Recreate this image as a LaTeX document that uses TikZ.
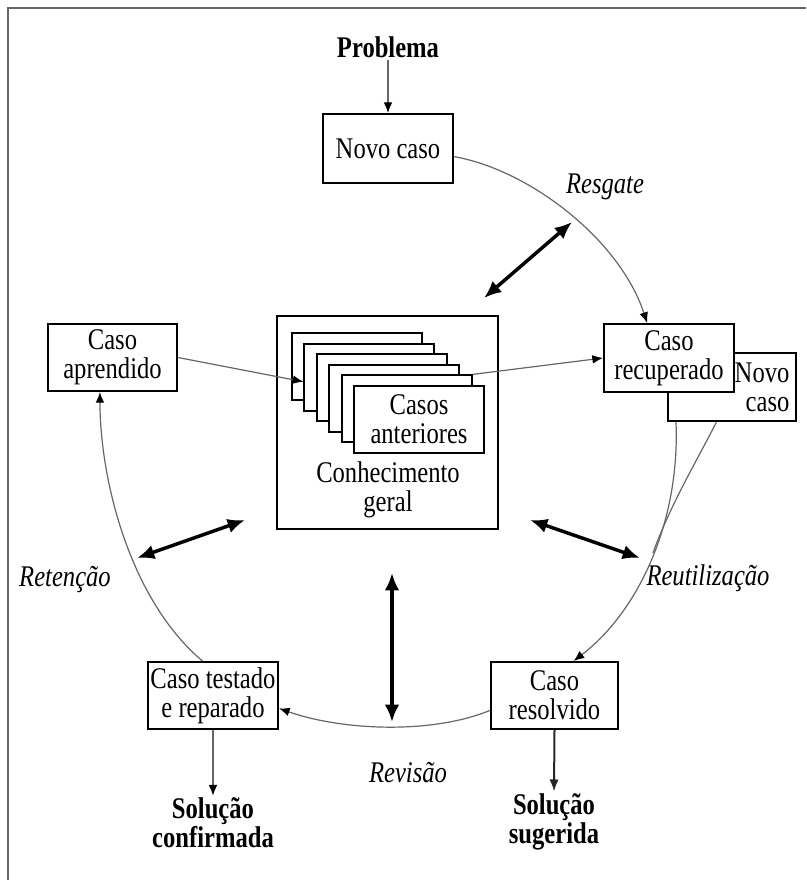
\documentclass[tikz,border=0pt]{standalone}
\usepackage{fontspec}
\setmainfont{Liberation Serif}[FakeStretch=0.82]
\usetikzlibrary{arrows.meta}
\begin{document}
\begin{tikzpicture}[x=0.75pt,y=-0.75pt,
  every node/.style={font=\fontsize{22.5}{21.75}\selectfont, inner sep=1.5pt},
  box/.style={draw, line width=1.5pt, fill=white, align=center, inner sep=0pt},
  card/.style={draw, line width=1.5pt, fill=white, minimum width=97.5pt, minimum height=50.25pt, inner sep=0pt},
  flow/.style={draw=black!60, line width=0.9pt, -{Latex[length=8pt,width=6.5pt,color=black]}},
  plain/.style={draw=black!60, line width=0.9pt},
  link/.style={draw=black, line width=2.6pt, {Latex[length=13pt,width=11pt]}-{Latex[length=13pt,width=11pt]}},
  outcome/.style={font=\fontsize{22.5}{21.75}\selectfont\bfseries, align=center},
  phase/.style={font=\fontsize{22.5}{21.75}\selectfont\itshape}]

\useasboundingbox (0,0) rectangle (806,880);

% frame
\draw[black!60, line width=1.5pt] (806,8) -- (8,8) -- (8,880);

% knowledge base with the stack of past cases
\node[box, minimum width=165.75pt, minimum height=159.75pt] (know) at (387.5,422.5) {};
\node[card] (card1) at (357.0,366.5) {};
\node[card] (card2) at (369.4,377.1) {};
\node[card] (card3) at (381.8,387.7) {};
\node[card] (card4) at (394.2,398.3) {};
\node[card] (card5) at (406.6,408.9) {};
\node[card, align=center] (card6) at (419.0,419.5) {Casos\\anteriores};
\node[align=center] (geral) at (388,490) {Conhecimento\\geral};

% cycle boxes
\node[outcome] (prob) at (388,47) {Problema};
\node[box, minimum width=97.5pt, minimum height=51.75pt] (novo) at (388,148.5) {Novo caso};
\node[box, minimum width=96pt, minimum height=51pt] (nov2) at (732,387) {};
\node[anchor=east, align=right] (nov2txt) at ([xshift=-4pt]nov2.east) {Novo\\caso};
\node[box, minimum width=97.5pt, minimum height=51pt] (rec) at (669,358) {Caso\\recuperado};
\node[box, minimum width=95.25pt, minimum height=50.25pt] (res) at (554.5,695.5) {Caso\\resolvido};
\node[box, minimum width=97.5pt, minimum height=50.25pt] (tes) at (213,695.5) {Caso testado\\e reparado};
\node[box, minimum width=96.75pt, minimum height=50.25pt] (apr) at (112.5,357.5) {Caso\\aprendido};

\node[outcome] (solsug) at (554,822) {Solução\\sugerida};
\node[outcome] (solconf) at (213,823) {Solução\\confirmada};

% phase labels
\node[phase] (resg) at (605,187) {Resgate};
\node[phase] (reut) at (708,578) {Reutilização};
\node[phase] (revi) at (408,773) {Revisão};
\node[phase] (rete) at (65,580) {Retenção};

% flow of the cycle
\draw[flow] (prob.south) -- (novo.north);
\draw[flow] (novo.-7) .. controls (530,170) and (620,240) .. (rec.122);
\draw[flow] (apr.east) -- (card2.184);
\draw[flow] (card5.north east) -- (rec.west);
\coordinate (merge) at (653,553);
\draw[flow] (nov2.-148) .. controls (680,520) and (640,610) .. (res.61);
\draw[plain] (nov2.-114) .. controls (700,455) and (670,505) .. (merge);
\draw[flow] (res.193) .. controls (430,735) and (340,730) .. (tes.-11);
\draw[flow] (tes.107) .. controls (130,600) and (100,480) .. (apr.-110);
\draw[flow] (tes.south) -- (solconf.north);
\draw[draw=black!85, line width=1.5pt, -{Latex[length=9pt,width=7pt]}] (res.south) -- (solsug.north);

% exchanges with the knowledge base
\coordinate (k1) at (484,298);
\coordinate (k2) at (572,222);
\coordinate (k3) at (530,520);
\coordinate (k4) at (640,558);
\coordinate (k5) at (392,573);
\coordinate (k6) at (392,722);
\coordinate (k7) at (245,520);
\coordinate (k8) at (137,558);
\draw[link] (k1) -- (k2);
\draw[link] (k3) -- (k4);
\draw[link] (k5) -- (k6);
\draw[link] (k7) -- (k8);
\end{tikzpicture}
\end{document}
